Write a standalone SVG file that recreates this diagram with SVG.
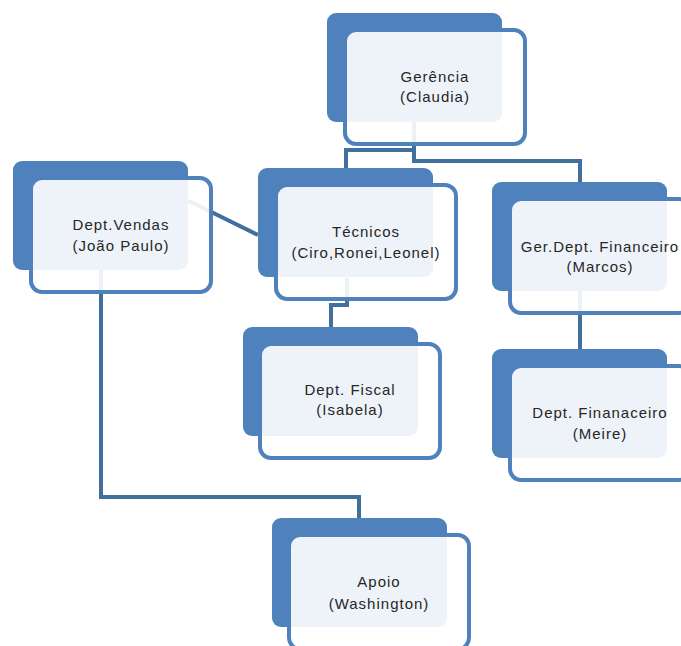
<svg xmlns="http://www.w3.org/2000/svg" width="681" height="646" viewBox="0 0 681 646">
<style>
.back{fill:#4f81bd;}
.front{fill:#ffffff;fill-opacity:0.9;stroke:#4f81bd;stroke-width:4;}
.conn{fill:none;stroke:#41709f;stroke-width:4;stroke-linejoin:miter;}
.lbl{font-family:"Liberation Sans",Arial,sans-serif;font-size:15px;letter-spacing:1px;fill:#262626;text-anchor:middle;}
</style>
<rect width="681" height="646" fill="#ffffff"/>
<g id="connectors">
<path class="conn" d="M414 122 V150 H346 V168"/>
<path class="conn" d="M414 122 V161 H580 V182"/>
<path class="conn" d="M188 200.5 L258 235"/>
<path class="conn" d="M347 278 V305 H331 V327"/>
<path class="conn" d="M580 291 V349"/>
<path class="conn" d="M101 270 V497 H359 V518"/>
</g>
<g id="gerencia">
<rect class="back" x="327" y="13" width="175" height="109" rx="9"/>
<rect class="front" x="345" y="30" width="180" height="114" rx="11"/>
<text class="lbl" x="435" y="82">Gerência</text>
<text class="lbl" x="435" y="102">(Claudia)</text>
</g>
<g id="vendas">
<rect class="back" x="13" y="161" width="175" height="109" rx="9"/>
<rect class="front" x="31" y="178" width="180" height="114" rx="11"/>
<text class="lbl" x="121" y="230">Dept.Vendas</text>
<text class="lbl" x="121" y="251">(João Paulo)</text>
</g>
<g id="tecnicos">
<rect class="back" x="258" y="168" width="175" height="109" rx="9"/>
<rect class="front" x="276" y="185" width="180" height="114" rx="11"/>
<text class="lbl" x="366" y="237">Técnicos</text>
<text class="lbl" x="366" y="258">(Ciro,Ronei,Leonel)</text>
</g>
<g id="gerfinanceiro">
<rect class="back" x="492" y="182" width="175" height="109" rx="9"/>
<rect class="front" x="510" y="199" width="180" height="114" rx="11"/>
<text class="lbl" x="600" y="252">Ger.Dept. Financeiro</text>
<text class="lbl" x="600" y="272">(Marcos)</text>
</g>
<g id="fiscal">
<rect class="back" x="243" y="327" width="175" height="109" rx="9"/>
<rect class="front" x="260" y="344" width="180" height="114" rx="11"/>
<text class="lbl" x="350" y="395">Dept. Fiscal</text>
<text class="lbl" x="350" y="415">(Isabela)</text>
</g>
<g id="financeiro">
<rect class="back" x="492" y="349" width="175" height="109" rx="9"/>
<rect class="front" x="510" y="366" width="180" height="114" rx="11"/>
<text class="lbl" x="600" y="418">Dept. Finanaceiro</text>
<text class="lbl" x="600" y="439">(Meire)</text>
</g>
<g id="apoio">
<rect class="back" x="272" y="518" width="175" height="109" rx="9"/>
<rect class="front" x="289" y="535" width="180" height="114" rx="11"/>
<text class="lbl" x="379" y="587">Apoio</text>
<text class="lbl" x="379" y="609">(Washington)</text>
</g>
</svg>
